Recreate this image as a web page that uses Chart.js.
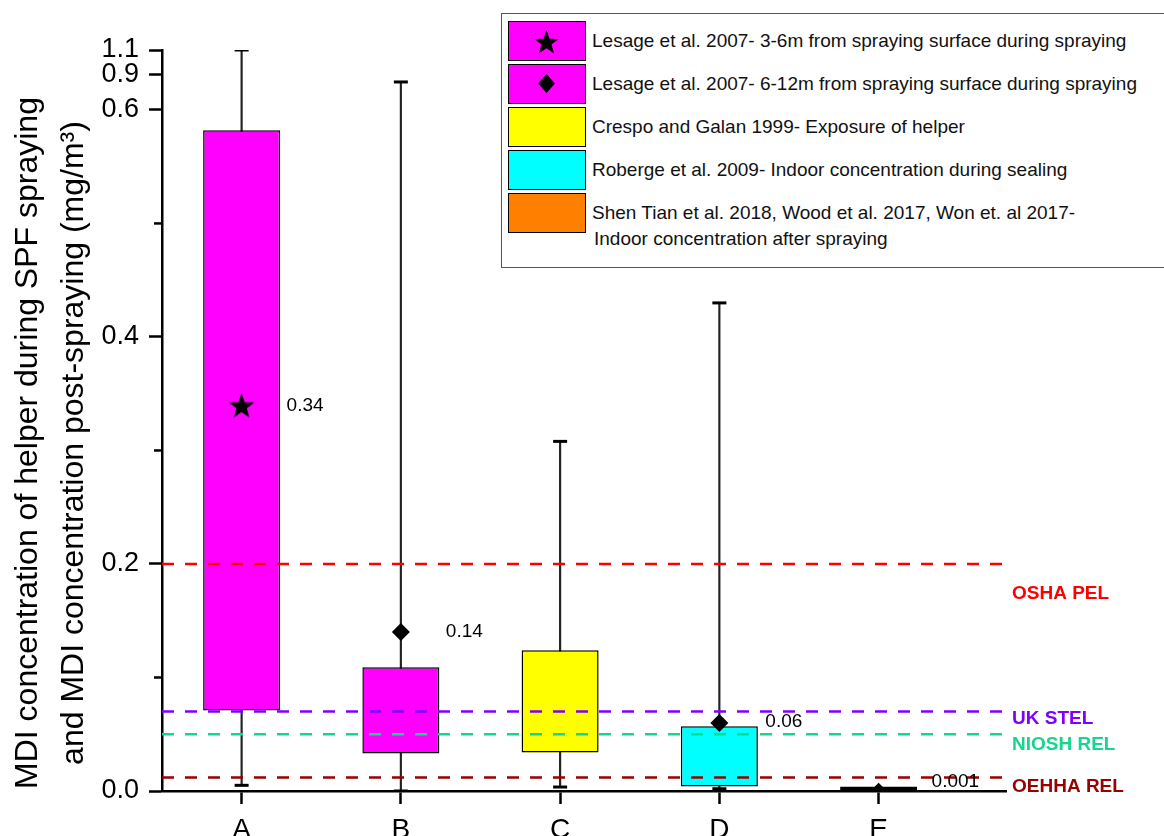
<!DOCTYPE html>
<html>
<head>
<meta charset="utf-8">
<title>MDI concentration during and after SPF spraying</title>
<script src="https://cdn.jsdelivr.net/npm/chart.js@4.4.1/dist/chart.umd.min.js"></script>
<style>
  html, body { margin: 0; padding: 0; background: #fff; overflow: hidden; }
  #wrap { position: relative; width: 1164px; height: 836px; }
  #legend {
    position: absolute; left: 501px; top: 13px; width: 720px; height: 253px;
    border: 1px solid #555; background: #fff;
    font-family: "Liberation Sans", Arial, sans-serif; font-size: 19px; color: #111;
  }
  .swatch {
    position: absolute; left: 6px; width: 78px; height: 40px;
    border: 1.5px solid #000; box-sizing: border-box;
  }
  .swatch svg { position: absolute; left: 0; top: 0; }
  .label { position: absolute; left: 90px; white-space: nowrap; line-height: 24px; }
</style>
</head>
<body>
<div id="wrap">
  <canvas id="chart" width="1164" height="836"></canvas>
  <div id="legend"></div>
</div>
<script>
const CATEGORIES = ['A', 'B', 'C', 'D', 'E']

// box plot per category (mg/m3)
const WHISKER_LOW = [0.005, 0.0, 0.0035, 0.002, 0.0]
const BOX_LOW = [0.071, 0.033, 0.034, 0.004, 0.0]
const BOX_HIGH = [0.582, 0.109, 0.124, 0.057, 0.004]
const WHISKER_HIGH = [1.1, 0.84, 0.308, 0.43, 0.004]
const BOX_COLORS = ['#ff00ff', '#ff00ff', '#ffff00', '#00ffff', '#ff8000']

// reported means shown as markers
const MARKER_CATS = [0, 1, 3, 4]
const MARKER_VALUES = [0.34, 0.14, 0.06, 0.001]
const MARKER_LABELS = ['0.34', '0.14', '0.06', '0.001']
const MARKER_SHAPES = ['star', 'diamond', 'diamond', 'diamond']

// exposure limits
const LIMIT_NAMES = ['OSHA PEL', 'UK STEL', 'NIOSH REL', 'OEHHA REL']
const LIMIT_VALUES = [0.2, 0.07, 0.05, 0.012]
const LIMIT_COLORS = ['#ff0000', '#8000ff', '#14d68e', '#990000']

const Y_TICKS = [0, 0.2, 0.4, 0.6, 0.9, 1.1]
const Y_TICK_LABELS = ['0.0', '0.2', '0.4', '0.6', '0.9', '1.1']
const Y_MINOR_TICKS = [0.1, 0.3, 0.5]

const LEGEND_TEXT = [
  'Lesage et al. 2007- 3-6m from spraying surface during spraying',
  'Lesage et al. 2007- 6-12m from spraying surface during spraying',
  'Crespo and Galan 1999- Exposure of helper',
  'Roberge et al. 2009- Indoor concentration during sealing',
  'Shen Tian et al. 2018, Wood et al. 2017, Won et. al 2017-\nIndoor concentration after spraying'
]
const LEGEND_COLORS = ['#ff00ff', '#ff00ff', '#ffff00', '#00ffff', '#ff8000']
const LEGEND_SHAPES = ['star', 'diamond', null, null, null]

const Y_TITLE = [
  'MDI concentration of helper during SPF spraying',
  'and MDI concentration post-spraying (mg/m\u00b3)'
]

const FONT = '"Liberation Sans", Arial, sans-serif'

// y axis is broken above 0.6: 0.6-0.9 and 0.9-1.1 get squeezed into a thin strip
const BREAKS = [
  {from: 0.6, to: 0.9, span: 0.0308},
  {from: 0.9, to: 1.1, span: 0.022}
]
const toAxis = (v) => {
  if (v <= 0.6) return v
  let out = 0.6
  for (const b of BREAKS) {
    if (v <= b.from) break
    out += (Math.min(v, b.to) - b.from) / (b.to - b.from) * b.span
  }
  return out
}

const starPath = (cx, cy, r) => {
  const pts = []
  for (let k = 0; k < 10; k++) {
    const rad = k % 2 ? r * 0.4 : r
    const a = -Math.PI / 2 + k * Math.PI / 5
    pts.push([cx + rad * Math.cos(a), cy + rad * Math.sin(a)])
  }
  return pts
}

const starImage = (size) => {
  const c = document.createElement('canvas')
  c.width = c.height = size
  const g = c.getContext('2d')
  g.fillStyle = '#000'
  g.beginPath()
  starPath(size / 2, size / 2 + 1.5, size / 2).forEach(([px, py], k) => k ? g.lineTo(px, py) : g.moveTo(px, py))
  g.closePath()
  g.fill()
  return c
}

// legend (html so text stays text)
const legendEl = document.getElementById('legend')
const SWATCH_TOPS = [7, 50, 93, 136, 179]
LEGEND_TEXT.forEach((text, i) => {
  const sw = document.createElement('div')
  sw.className = 'swatch'
  sw.style.top = SWATCH_TOPS[i] + 'px'
  sw.style.background = LEGEND_COLORS[i]
  if (LEGEND_SHAPES[i] === 'star') {
    const pts = starPath(37.5, 21, 13).map(p => p.join(',')).join(' ')
    sw.innerHTML = `<svg width="75" height="37"><polygon points="${pts}" fill="#000"/></svg>`
  } else if (LEGEND_SHAPES[i] === 'diamond') {
    sw.innerHTML = '<svg width="75" height="37"><polygon points="37.5,9 46,18.5 37.5,28 29,18.5" fill="#000"/></svg>'
  }
  legendEl.appendChild(sw)

  text.split('\n').forEach((line, j) => {
    const lab = document.createElement('div')
    lab.className = 'label'
    lab.textContent = line
    lab.style.top = (SWATCH_TOPS[i] + 8 + j * 26) + 'px'
    if (j) lab.style.left = '92px'
    legendEl.appendChild(lab)
  })
})

const MARKER_LABEL_OFFSETS = [[45, 1], [45, 0], [46, -1], [53, -8]]
const LIMIT_LABEL_DY = [30, 7, 11, 9]

const annotate = {
  id: 'annotate',
  afterDatasetsDraw(chart) {
    const {ctx, chartArea, scales: {x, y}} = chart
    ctx.save()

    // minor ticks on the y axis
    ctx.strokeStyle = '#000'
    ctx.lineWidth = 2.5
    Y_MINOR_TICKS.forEach(v => {
      const py = y.getPixelForValue(toAxis(v))
      ctx.beginPath()
      ctx.moveTo(chartArea.left - 8, py)
      ctx.lineTo(chartArea.left, py)
      ctx.stroke()
    })

    ctx.textBaseline = 'middle'
    ctx.fillStyle = '#000'
    ctx.font = `19px ${FONT}`
    MARKER_VALUES.forEach((v, i) => {
      const [dx, dy] = MARKER_LABEL_OFFSETS[i]
      ctx.fillText(MARKER_LABELS[i], x.getPixelForValue(MARKER_CATS[i]) + dx, y.getPixelForValue(toAxis(v)) + dy)
    })

    ctx.font = `bold 19px ${FONT}`
    LIMIT_NAMES.forEach((name, i) => {
      ctx.fillStyle = LIMIT_COLORS[i]
      ctx.fillText(name, chartArea.right + 6, y.getPixelForValue(toAxis(LIMIT_VALUES[i])) + LIMIT_LABEL_DY[i])
    })
    ctx.restore()
  },
  afterDraw(chart) {
    const {ctx} = chart
    ctx.save()
    ctx.fillStyle = '#000'
    ctx.font = `32px ${FONT}`
    ctx.textAlign = 'center'
    ctx.textBaseline = 'alphabetic'
    const baselines = [37, 83]
    Y_TITLE.forEach((line, i) => {
      ctx.save()
      ctx.translate(baselines[i], 443)
      ctx.rotate(-Math.PI / 2)
      ctx.fillText(line, 0, 0)
      ctx.restore()
    })
    ctx.restore()
  }
}

const boxData = CATEGORIES.map((c, i) => ({x: i, y: [toAxis(BOX_LOW[i]), toAxis(BOX_HIGH[i])]}))
const whiskerData = CATEGORIES.map((c, i) => ({x: i, y: [toAxis(WHISKER_LOW[i]), toAxis(WHISKER_HIGH[i])]}))
const capData = []
CATEGORIES.forEach((c, i) => {
  if (WHISKER_HIGH[i] <= BOX_HIGH[i]) return
  capData.push({x: i, y: toAxis(WHISKER_LOW[i])}, {x: i, y: toAxis(WHISKER_HIGH[i])})
})
const markerData = MARKER_VALUES.map((v, i) => ({x: MARKER_CATS[i], y: toAxis(v)}))
const star = starImage(27)

const limitSets = LIMIT_VALUES.map((v, i) => ({
  type: 'line',
  label: LIMIT_NAMES[i],
  data: [{x: -0.5, y: toAxis(v)}, {x: 4.8, y: toAxis(v)}],
  borderColor: LIMIT_COLORS[i],
  borderWidth: 2.5,
  borderDash: [12, 11],
  pointRadius: 0,
  fill: false,
  order: 2
}))

new Chart(document.getElementById('chart'), {
  type: 'bar',
  data: {
    datasets: [
      {
        label: 'whiskers',
        data: whiskerData,
        backgroundColor: '#222',
        barThickness: 1.5,
        grouped: false,
        order: 5
      },
      {
        label: 'boxes',
        data: boxData,
        backgroundColor: BOX_COLORS,
        borderColor: '#000',
        // the flat E box reads as a thick black line
        borderWidth: (ctx) => ctx.dataIndex === 4 ? 3 : 1.5,
        borderSkipped: false,
        inflateAmount: 0,
        barThickness: 77,
        grouped: false,
        order: 4
      },
      ...limitSets,
      {
        type: 'scatter',
        label: 'caps',
        data: capData,
        pointStyle: 'line',
        pointRadius: 7,
        borderColor: '#000',
        pointBorderWidth: 3,
        order: 1
      },
      {
        type: 'scatter',
        label: 'means',
        data: markerData,
        pointStyle: MARKER_SHAPES.map(s => s === 'star' ? star : 'rectRot'),
        pointRadius: [13, 9, 9, 7],
        backgroundColor: '#000',
        borderColor: '#000',
        borderWidth: 0,
        clip: {left: false, top: false, right: false, bottom: 0},
        order: 0
      }
    ]
  },
  options: {
    responsive: false,
    animation: false,
    devicePixelRatio: 1,
    layout: {padding: {top: 50, right: 158, bottom: 0, left: 0}},
    plugins: {legend: {display: false}, tooltip: {enabled: false}},
    scales: {
      x: {
        type: 'linear',
        min: -0.5,
        max: 4.8,
        offset: false,
        afterBuildTicks: (scale) => { scale.ticks = CATEGORIES.map((c, i) => ({value: i})) },
        afterFit: (scale) => { scale.height = 45 },
        ticks: {
          callback: (value, index) => CATEGORIES[index],
          autoSkip: false,
          maxRotation: 0,
          padding: 9,
          color: '#000',
          font: {family: FONT, size: 28}
        },
        grid: {offset: false, drawOnChartArea: false, tickLength: 13, tickWidth: 2.5, tickColor: '#000'},
        border: {color: '#000', width: 2.5}
      },
      y: {
        type: 'linear',
        min: 0,
        max: toAxis(1.1),
        afterBuildTicks: (scale) => { scale.ticks = Y_TICKS.map(v => ({value: toAxis(v)})) },
        afterFit: (scale) => { scale.width = 162 },
        ticks: {
          callback: (value, index) => Y_TICK_LABELS[index],
          autoSkip: false,
          padding: 10,
          color: '#000',
          font: {family: FONT, size: 27}
        },
        grid: {drawOnChartArea: false, tickLength: 13, tickWidth: 2.5, tickColor: '#000'},
        border: {color: '#000', width: 2.5}
      }
    }
  },
  plugins: [annotate]
})
</script>
</body>
</html>
